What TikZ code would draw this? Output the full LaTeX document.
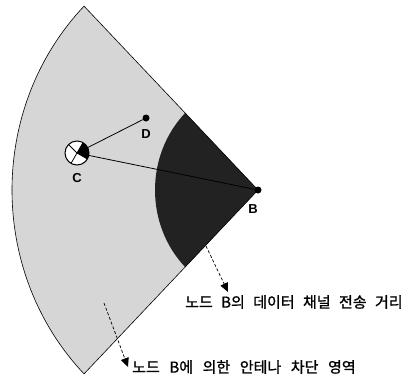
\documentclass[tikz,border=0pt]{standalone}
\usepackage{fontspec}
\setmainfont{Liberation Sans}
\newfontfamily\kr[FakeBold=1.2]{Noto Sans CJK KR}
\newcommand\wgapa{\hspace{8.4pt}}
\newcommand\wgapb{\hspace{9.6pt}}
\usetikzlibrary{arrows.meta,calc}
\definecolor{lgray}{RGB}{214,214,214}
\definecolor{dgray}{RGB}{34,34,34}
\tikzset{
  dot/.style={circle,fill=black,inner sep=0pt,minimum size=7pt},
  lbl/.style={font=\fontsize{13}{15}\selectfont\bfseries,inner sep=0pt},
  krlbl/.style={font=\kr\fontsize{15}{17}\selectfont,inner sep=0pt,anchor=west},
  edge/.style={line width=0.6pt,black},
  link/.style={line width=0.8pt,black},
  ptr/.style={dashed,dash pattern=on 3pt off 2pt,line width=0.7pt,-{Triangle[length=9pt,width=8pt]}}
}
\begin{document}
\begin{tikzpicture}[x=1pt,y=1pt]
\useasboundingbox (0,0) rectangle (409,-381);
\coordinate (apex) at (258,-190);
% light sector
\fill[lgray] (apex) -- ($(apex)+(135:246 and 260)$) arc[start angle=135,end angle=225,x radius=246,y radius=260] -- cycle;
% dark sector
\fill[dgray] (apex) -- ($(apex)+(135:103 and 109)$) arc[start angle=135,end angle=225,x radius=103,y radius=109] -- cycle;
% outline
\draw[edge] (apex) -- ($(apex)+(135:246 and 260)$) arc[start angle=135,end angle=225,x radius=246,y radius=260] -- cycle;
% nodes
\node[dot] (B) at (258,-190) {};
\node[dot] (D) at (146,-118) {};
\node[circle,minimum size=24pt,inner sep=0pt] (C) at (77,-153) {};
\draw[link] (C) -- (D);
\draw[link] (C) -- (B);
% C symbol
\fill[white] (C.center) circle (12);
\fill[black] (C.center) -- ++(-30:12) arc[start angle=-30,end angle=60,radius=12] -- cycle;
\draw[line width=0.8pt] (C.center) -- ++(135:12) (C.center) -- ++(240:12) (C.center) -- ++(60:12) (C.center) -- ++(-30:12);
\draw[line width=1pt] (C.center) circle (12);
% labels
\node[lbl] (Dl) at (146,-134) {D};
\node[lbl] (Cl) at (77,-178) {C};
\node[lbl] (Bl) at (253,-209) {B};
% pointers
\node[krlbl] (t1) at (185,-302) {노드\wgapa B의\wgapa 데이터\wgapa 채널\wgapa 전송\wgapa 거리};
\node[krlbl] (t2) at (132,-367) {노드\wgapb B에\wgapb 의한\wgapb 안테나\wgapb 차단\wgapb 영역};
\coordinate (s1) at (206,-246);
\coordinate (e1) at (228,-292);
\coordinate (s2) at (104,-303);
\coordinate (e2) at (128,-367);
\draw[ptr] (s1) -- (e1);
\draw[ptr] (s2) -- (e2);
\end{tikzpicture}
\end{document}
